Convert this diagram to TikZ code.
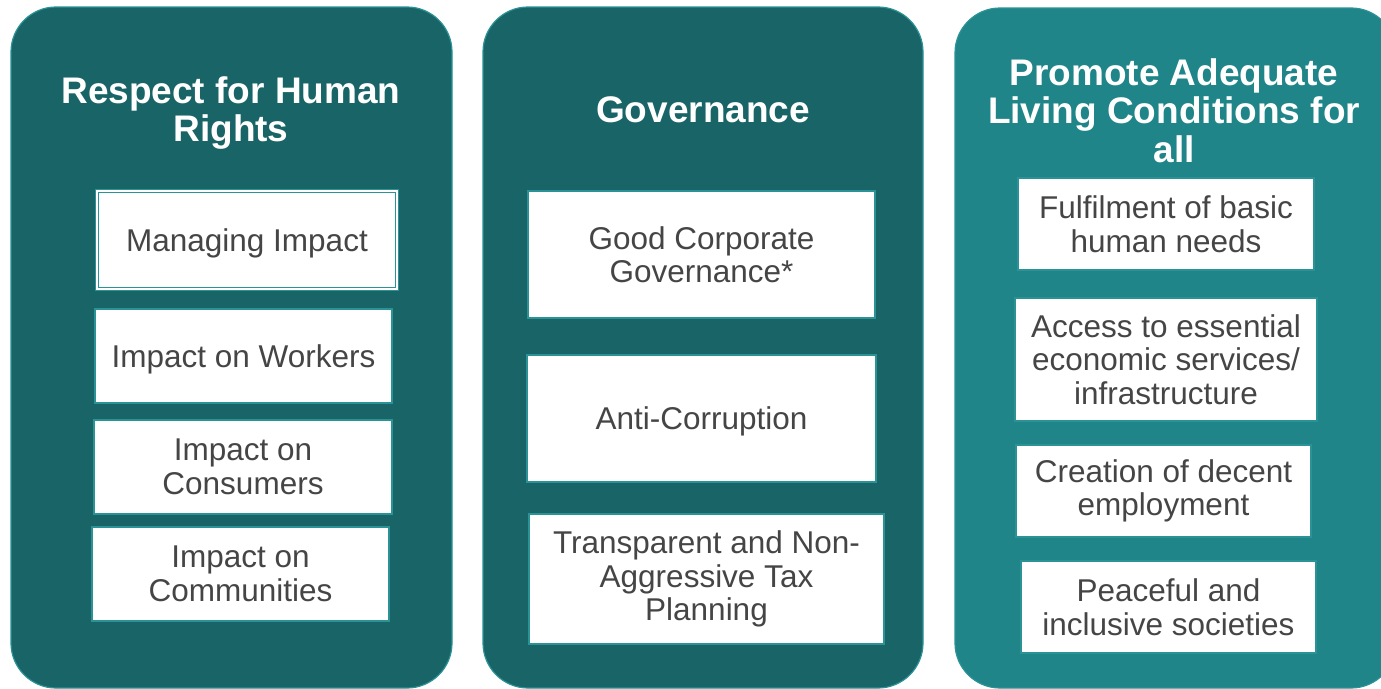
\documentclass[tikz,border=0pt]{standalone}
\usepackage{fontspec}
\setmainfont{Liberation Sans}
\definecolor{darkteal}{HTML}{196467}
\definecolor{liteteal}{HTML}{1F8588}
\definecolor{edgeteal}{HTML}{2B9296}
\definecolor{txtgray}{HTML}{454545}
\tikzset{
  panel/.style={draw=edgeteal, line width=1.2pt, rounded corners=45pt, inner sep=0pt},
  ttl/.style={text=white, font=\bfseries\fontsize{37}{38.6}\selectfont, align=center, inner sep=0pt},
  item/.style={draw=edgeteal, line width=1.5pt, fill=white, text=txtgray, inner sep=0pt,
    font=\fontsize{31.5}{33.5}\selectfont, align=center},
  oneline/.style={text depth=0pt},
}
\begin{document}
\begin{tikzpicture}[x=1pt,y=-1pt]
\useasboundingbox (0,0) rectangle (1381,688);
\clip (0,0) rectangle (1381,688);
\fill[white] (0,0) rectangle (1381,688);
% panels
\node[panel, fill=darkteal, minimum width=441pt, minimum height=681pt] (p1) at (231.5,347.5) {};
\node[panel, fill=darkteal, minimum width=440pt, minimum height=681pt] (p2) at (703,347.5) {};
\node[panel, fill=liteteal, minimum width=441pt, minimum height=680pt] (p3) at (1175.5,348) {};
% titles
\node[ttl] (t1) at (231,113) {Respect for Human\\Rights};
\node[ttl] (t2) at (703,110) {Governance};
\node[ttl] (t3) at (1174,110.5) {Promote Adequate\\Living Conditions for\\all};
% left column
\node[item, oneline, minimum width=300pt, minimum height=98pt, double=white, double distance=2pt, draw=edgeteal, line width=1pt] (mi) at (247,240) {Managing Impact};
\node[item, oneline, minimum width=297pt, minimum height=94pt] (iw) at (243.5,356) {Impact on Workers};
\node[item, minimum width=298pt, minimum height=94pt] (ic) at (243,467) {Impact on\\Consumers};
\node[item, minimum width=297pt, minimum height=94pt] (icm) at (240.5,574) {Impact on\\Communities};
% middle column
\node[item, minimum width=347pt, minimum height=127pt] (gcg) at (701.5,254.5) {Good Corporate\\Governance*};
\node[item, oneline, minimum width=349pt, minimum height=127pt] (ac) at (701.5,418.5) {Anti-Corruption};
\node[item, minimum width=355pt, minimum height=130pt] (tax) at (706.5,579) {Transparent and Non-\\Aggressive Tax\\Planning};
% right column
\node[item, minimum width=296pt, minimum height=92pt] (fb) at (1166,224) {Fulfilment of basic\\human needs};
\node[item, minimum width=302pt, minimum height=123pt] (ae) at (1166,359.5) {Access to essential\\economic services/\\infrastructure};
\node[item, minimum width=295pt, minimum height=92pt] (cd) at (1163.5,491) {Creation of decent\\employment};
\node[item, minimum width=295pt, minimum height=92pt] (pi) at (1168.5,607) {Peaceful and\\inclusive societies};
\end{tikzpicture}
\end{document}
